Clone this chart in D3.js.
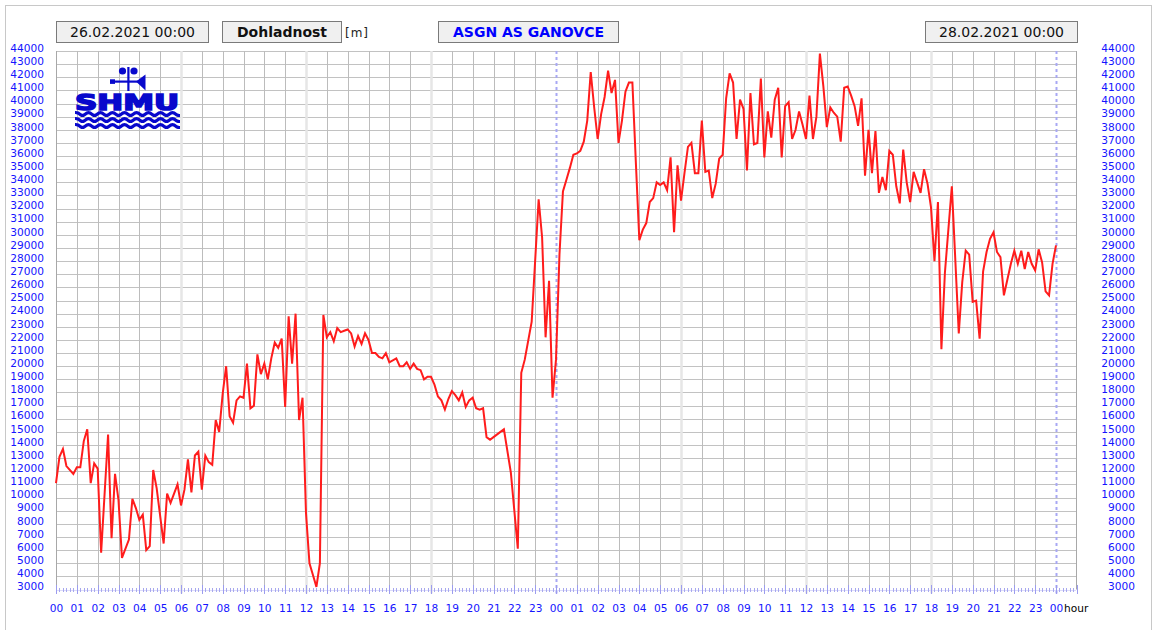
<!DOCTYPE html>
<html><head><meta charset="utf-8">
<script src="https://cdn.jsdelivr.net/npm/d3@7"></script>
<style>
body{margin:0;background:#fff}
svg{display:block}
text{font-family:"DejaVu Sans",sans-serif}
</style>
</head><body>
<svg id="chart" width="1157" height="630"></svg>
<script>
// ---------- data ----------
const startLabel = "26.02.2021 00:00";
const endLabel = "28.02.2021 00:00";
const quantityLabel = "Dohladnost";
const unitLabel = "[m]";
const stationLabel = "ASGN AS GANOVCE";
const axisUnitLabel = "hour";

const hourLabels = ["00","01","02","03","04","05","06","07","08","09","10","11",
  "12","13","14","15","16","17","18","19","20","21","22","23",
  "00","01","02","03","04","05","06","07","08","09","10","11",
  "12","13","14","15","16","17","18","19","20","21","22","23","00"];

const yTickValues = [3000,4000,5000,6000,7000,8000,9000,10000,11000,12000,13000,14000,
  15000,16000,17000,18000,19000,20000,21000,22000,23000,24000,25000,26000,27000,28000,
  29000,30000,31000,32000,33000,34000,35000,36000,37000,38000,39000,40000,41000,42000,
  43000,44000];

// minutes since 26.02.2021 00:00
const timeMinutes = [
  0,10,20,30,50,
  60,70,80,90,100,110,
  120,130,150,160,170,
  180,190,210,220,230,
  240,250,260,270,280,290,
  310,320,330,350,
  360,370,380,390,400,410,
  420,430,440,450,460,470,
  480,490,500,510,520,530,
  540,550,560,570,580,590,
  600,610,620,630,640,650,
  660,670,680,690,700,710,
  720,730,740,750,760,770,
  780,790,800,810,820,830,
  840,850,860,870,880,890,
  900,910,920,930,940,950,
  960,980,990,1000,1010,
  1020,1030,1040,1050,1060,1070,
  1080,1090,1100,1110,1120,1130,
  1140,1150,1160,1170,1180,1190,
  1200,1210,1220,1230,1240,1250,
  1260,1280,1290,1310,
  1330,1340,1350,1370,
  1390,1400,1410,1420,1430,
  1440,1450,1460,1470,1480,1490,
  1500,1510,1520,1530,1540,1550,
  1560,1570,1580,1590,1600,1610,
  1620,1630,1640,1650,1660,1670,
  1680,1690,1700,1710,1720,1730,
  1740,1750,1760,1770,1780,1790,
  1800,1810,1820,1830,1840,1850,
  1860,1870,1880,1890,1900,1910,
  1920,1930,1940,1950,1960,1970,
  1980,1990,2000,2010,2020,2030,
  2040,2050,2060,2070,2080,2090,
  2100,2110,2120,2130,2140,2150,
  2160,2170,2180,2190,2200,2210,
  2220,2230,2240,2250,2260,2270,
  2280,2290,2300,2310,2320,2330,
  2340,2350,2360,2370,2380,2390,
  2400,2410,2420,2430,2440,2450,
  2460,2470,2480,2490,2500,2510,
  2520,2530,2540,2550,2560,2580,
  2600,2610,2620,2630,
  2640,2650,2660,2670,2680,2690,
  2700,2710,2720,2730,2740,2750,
  2760,2770,2780,2790,2800,2810,
  2820,2830,2840,2850,2860,2870,
  2880
];

// visibility [m]
const visibility = [
  11100,13100,13700,12400,11800,
  12300,12300,14300,15200,11100,12600,
  12200,5800,14800,6900,11800,
  9800,5400,6800,9900,9200,
  8300,8700,6000,6300,12100,10700,
  6500,10300,9600,11000,
  9400,10600,12900,10400,13200,13500,
  10600,13200,12700,12500,15900,15000,
  17900,20000,16200,15700,17400,17700,
  17600,20200,16800,17000,20900,19400,
  20200,19000,20600,21800,21400,22100,
  16900,23800,20200,24000,15900,17600,
  8800,5000,4100,3200,5000,23900,
  22200,22600,21900,22900,22600,22700,
  22800,22500,21500,22300,21700,22500,
  22000,21000,21000,20700,20600,21000,
  20300,20600,20000,20000,20300,
  19800,20200,19800,19700,19000,19200,
  19200,18600,17700,17400,16700,17500,
  18100,17800,17400,18000,16900,17400,
  17600,16800,16700,16800,14600,14400,
  14600,15000,15200,11900,
  6100,19500,20500,23400,
  32700,29800,22200,26500,17600,
  20500,28500,33300,34200,35100,36100,
  36200,36400,37100,38700,42400,39700,
  37300,39200,40500,42500,40800,41800,
  37000,38700,40900,41600,41600,35500,
  29600,30400,30900,32500,32800,34000,
  33800,34000,33400,35900,30200,35300,
  32600,34700,36700,37000,34700,34700,
  38700,34800,34900,32800,33900,35800,
  36100,40400,42300,41600,37300,40300,
  39600,34900,40800,36900,37000,41900,
  35900,39400,37400,40300,41200,35900,
  39800,40100,37300,38000,39400,38400,
  37300,40600,37300,39000,43800,41300,
  38200,39700,39300,39000,37100,41200,
  41300,40600,39800,38300,40400,34500,
  38000,34700,37900,33200,34400,33400,
  36400,36100,33700,32400,36500,34000,
  32500,34800,34000,33200,35000,33900,
  32100,28000,32500,21300,27100,33700,
  22500,26400,28800,28500,
  24900,25000,22100,27200,28700,29700,
  30200,28700,28300,25400,26600,27800,
  28800,27800,28800,27400,28700,27800,
  27300,28900,27900,25700,25400,27800,
  29200
];

const series = timeMinutes.map((t, i) => ({t, v: visibility[i]}));

// ---------- layout ----------
const svg = d3.select("#chart");
const plotL = 56, plotR = 1076, plotT = 51, plotB = 589.5;
const x = d3.scaleLinear().domain([0, 48 * 60]).range([56, 1056]);
const y = d3.scaleLinear().domain([3000, 44000]).range([plotB, plotT]);

svg.append("rect").attr("width", 1157).attr("height", 630).attr("fill", "#fff");
// outer frame
svg.append("rect").attr("x", 5.5).attr("y", 5.5).attr("width", 1146).attr("height", 640)
  .attr("fill", "none").attr("stroke", "#c8c8c8").attr("stroke-width", 1);

// ---------- header boxes ----------
function box(x0, x1, label, opts) {
  svg.append("rect").attr("x", x0 + 0.5).attr("y", 21.5).attr("width", x1 - x0).attr("height", 21)
    .attr("fill", "#f0f0f0").attr("stroke", "#7a7a7a").attr("stroke-width", 1);
  svg.append("text").attr("x", (x0 + x1) / 2 + 0.5).attr("y", 37)
    .attr("text-anchor", "middle").attr("font-size", 14)
    .attr("font-weight", opts.bold ? "bold" : "normal")
    .attr("fill", opts.color || "#111").text(label);
}
box(56, 208, startLabel, {});
box(222, 341, quantityLabel, {bold: true});
svg.append("text").attr("x", 345).attr("y", 36.5).attr("font-size", 12)
  .attr("letter-spacing", 1).attr("fill", "#222").text(unitLabel);
box(438, 618, stationLabel, {bold: true, color: "#0000ff"});
box(925, 1077, endLabel, {});

// ---------- grid ----------
const grid = svg.append("g");
grid.selectAll("line.h").data(yTickValues).join("line")
  .attr("x1", plotL).attr("x2", plotR)
  .attr("y1", d => Math.round(y(d)) + 0.5).attr("y2", d => Math.round(y(d)) + 0.5)
  .attr("stroke", "#c2c2c2").attr("stroke-width", 1);

const hours = d3.range(0, 49);
grid.selectAll("line.v").data(hours.filter(h => h % 6 !== 0 || h === 0)).join("line")
  .attr("x1", h => Math.round(x(h * 60)) + 0.5).attr("x2", h => Math.round(x(h * 60)) + 0.5)
  .attr("y1", plotT).attr("y2", plotB)
  .attr("stroke", "#bcbcbc").attr("stroke-width", 1);
grid.selectAll("line.s").data([6, 12, 18, 30, 36, 42]).join("line")
  .attr("x1", h => x(h * 60) + 0.5).attr("x2", h => x(h * 60) + 0.5)
  .attr("y1", plotT).attr("y2", plotB + 4)
  .attr("stroke", "#e6e6e6").attr("stroke-width", 2.5);
grid.selectAll("line.d").data([24, 48]).join("line")
  .attr("x1", h => x(h * 60) + 0.5).attr("x2", h => x(h * 60) + 0.5)
  .attr("y1", plotT).attr("y2", plotB + 4)
  .attr("stroke", "#a8a8f4").attr("stroke-width", 2).attr("stroke-dasharray", "3,3");
// right & left border
grid.append("line").attr("x1", plotR + 0.5).attr("x2", plotR + 0.5).attr("y1", plotT).attr("y2", plotB)
  .attr("stroke", "#a8a8a8");
grid.append("line").attr("x1", plotL + 0.5).attr("x2", plotL + 0.5).attr("y1", plotT).attr("y2", plotB + 4)
  .attr("stroke", "#a8a8a8");

// ---------- axes ----------
const axL = svg.append("g").attr("transform", `translate(${plotL},0)`)
  .call(d3.axisLeft(y).tickValues(yTickValues).tickSize(0).tickPadding(12).tickFormat(d3.format("d")));
const axR = svg.append("g").attr("transform", `translate(1135,0)`)
  .call(d3.axisLeft(y).tickValues(yTickValues).tickSize(0).tickPadding(0).tickFormat(d3.format("d")));
[axL, axR].forEach(a => {
  a.select(".domain").remove();
  a.selectAll("text").attr("dy", "0.02em").attr("fill", "#1515ff")
    .attr("font-size", 10.6).attr("font-family", "DejaVu Sans");
});

// x ticks: minor every 10 min, major every hour
const minorTicks = d3.range(0, 49 * 60 + 1, 10);
const tickG = svg.append("g");
tickG.append("line").attr("x1", plotL).attr("x2", plotR).attr("y1", 590.5).attr("y2", 590.5)
  .attr("stroke", "#dcdcfa").attr("stroke-width", 1);
tickG.selectAll("line.mt").data(minorTicks).join("line")
  .attr("x1", d => Math.round(x(d)) + 0.5).attr("x2", d => Math.round(x(d)) + 0.5)
  .attr("y1", d => d % 60 === 0 ? 585 : 588).attr("y2", d => d % 60 === 0 ? 594 : 592)
  .attr("stroke", d => d % 60 === 0 ? "#9c9cee" : "#a8a8ee").attr("stroke-width", 1);

const axB = svg.append("g").attr("transform", `translate(0,600)`)
  .call(d3.axisBottom(x).tickValues(hours.map(h => h * 60)).tickSize(0).tickPadding(0)
    .tickFormat((d, i) => hourLabels[i]));
axB.select(".domain").remove();
axB.selectAll("text").attr("dy", "1.13em").attr("fill", "#1515ff")
  .attr("font-size", 10.6).attr("font-family", "DejaVu Sans");
svg.append("text").attr("x", 1064).attr("y", 612).attr("font-size", 10.6).attr("fill", "#000")
  .text(axisUnitLabel);

// ---------- logo ----------
const logoColor = "#0808cc";
const logo = svg.append("g").attr("fill", logoColor).attr("stroke", "none");
logo.append("circle").attr("cx", 122.5).attr("cy", 71).attr("r", 3.6);
logo.append("circle").attr("cx", 134).attr("cy", 71).attr("r", 3.6);
logo.append("rect").attr("x", 127.3).attr("y", 67).attr("width", 2.2).attr("height", 24);
logo.append("rect").attr("x", 110).attr("y", 80.5).attr("width", 30).attr("height", 2.2);
logo.append("rect").attr("x", 110).attr("y", 79.3).attr("width", 5).attr("height", 4.6);
logo.append("path").attr("d", "M136,81.6 L145.5,74.5 L145.5,90.5 Z");
logo.append("text").attr("x", 75).attr("y", 109.5).attr("font-family", "DejaVu Serif")
  .attr("font-weight", "bold").attr("font-size", 22).attr("textLength", 104)
  .attr("lengthAdjust", "spacingAndGlyphs")
  .attr("stroke", logoColor).attr("stroke-width", 1.6).text("SHMU");
const wave = d3.line().curve(d3.curveBasis);
[114, 120, 126].forEach(cy => {
  const pts = d3.range(0, 106, 3).map(i => [75 + i, cy + (Math.floor(i / 6) % 2 === 0 ? -1.5 : 1.5)]);
  logo.append("path").attr("d", wave(pts)).attr("fill", "none")
    .attr("stroke", logoColor).attr("stroke-width", 3.2);
});

// ---------- series ----------
const line = d3.line().x(d => x(d.t)).y(d => y(d.v));
svg.append("path").datum(series).attr("d", line)
  .attr("fill", "none").attr("stroke", "#ff1c1c").attr("stroke-width", 2);
</script>
</body></html>
